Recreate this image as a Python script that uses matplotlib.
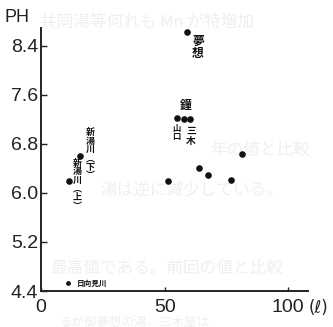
import matplotlib
matplotlib.use("Agg")
import matplotlib.pyplot as plt

# flow (x) vs pH of spring / river samples
flow = [11.3, 15.8, 51.4, 55.2, 57.8, 60.3, 64.1, 67.6, 77.0, 81.4, 59.0]
ph = [6.20, 6.60, 6.20, 7.23, 7.21, 7.21, 6.41, 6.30, 6.21, 6.63, 8.62]

# small sample drawn with a smaller dot
small_flow = [11.1]
small_ph = [4.53]

# labelled points: (index into flow/ph, text, dx px, dy px, vertical?, size)
labels = [
    (10, "夢想", 11, -15, True, 8.5),
    (4, "鐘", 2, 13, False, 8.5),
    (3, "山口", -1, -15, True, 6),
    (5, "三木", 1, -17, True, 7),
    (1, "新湯川︵下︶", 10, 2, True, 6.5),
    (0, "新湯川︵上︶", 8, -4, True, 6.5),
]
small_label = "日向見川"

yticks = [4.4, 5.2, 6.0, 6.8, 7.6, 8.4]
xticks = [0, 50, 100]

JP = ["Noto Sans CJK JP", "DejaVu Sans"]
NUM = ["Liberation Sans", "DejaVu Sans"]

fig = plt.figure(figsize=(3.33, 3.27), dpi=100)
fig.patch.set_facecolor("white")

# faint show-through text from the page behind
ghost = [
    (40, 22, "共同湯等何れも Mn が特増加", 12),
    (210, 150, "年の値と比較", 12),
    (100, 190, "湯は逆に減少している。", 12),
    (50, 268, "最高値である。前回の値と比較", 12),
    (60, 322, "るが御夢想の湯、三木屋は", 9),
]
for gx, gy, gt, gs in ghost:
    fig.text(gx / 333, 1 - gy / 327, gt, family=JP, fontsize=gs,
             color="#efefef", va="center", ha="left", zorder=-5)

ax = fig.add_axes([41 / 333, 1 - 291 / 327, 267 / 333, 263 / 327])
ax.set_zorder(1)
ax.patch.set_alpha(0)
ax.set_xlim(0, 108)
ax.set_ylim(4.4, 8.69)

ax.scatter(flow, ph, s=14, color="#111111", zorder=3)
ax.scatter(small_flow, small_ph, s=6, color="#111111", zorder=3)

for i, txt, dx, dy, vert, size in labels:
    s = "\n".join(txt) if vert else txt
    ax.annotate(s, (flow[i], ph[i]), xytext=(dx, dy),
                textcoords="offset pixels", ha="center", va="center",
                family=JP, fontsize=size, fontweight="bold",
                linespacing=0.95, color="#111111")

ax.annotate(small_label, (small_flow[0], small_ph[0]), xytext=(8, 0),
            textcoords="offset pixels", ha="left", va="center",
            family=JP, fontsize=5.5, fontweight="bold", color="#111111")

for side in ["top", "right"]:
    ax.spines[side].set_visible(False)
for side in ["left", "bottom"]:
    ax.spines[side].set_linewidth(1.4)
    ax.spines[side].set_color("#222222")

ax.set_yticks(yticks)
ax.set_yticklabels([f"{v:.1f}" for v in yticks])
ax.set_xticks(xticks)
ax.set_xticklabels([str(v) for v in xticks])
ax.tick_params(axis="y", direction="in", length=4, width=1, pad=2,
               labelsize=14, colors="#222222")
ax.tick_params(axis="x", direction="in", length=3, width=1, pad=6,
               labelsize=14, colors="#222222")
for lab in ax.get_xticklabels() + ax.get_yticklabels():
    lab.set_family(NUM)

fig.text(5 / 333, 1 - 17 / 327, "PH", family=NUM, fontsize=13,
         color="#222222", va="center", ha="left")
fig.text(318 / 333, 1 - 308 / 327, "(ℓ)", family=["DejaVu Sans"],
         fontsize=12, color="#222222", va="center", ha="center")

fig.savefig("out.png", dpi=100)
